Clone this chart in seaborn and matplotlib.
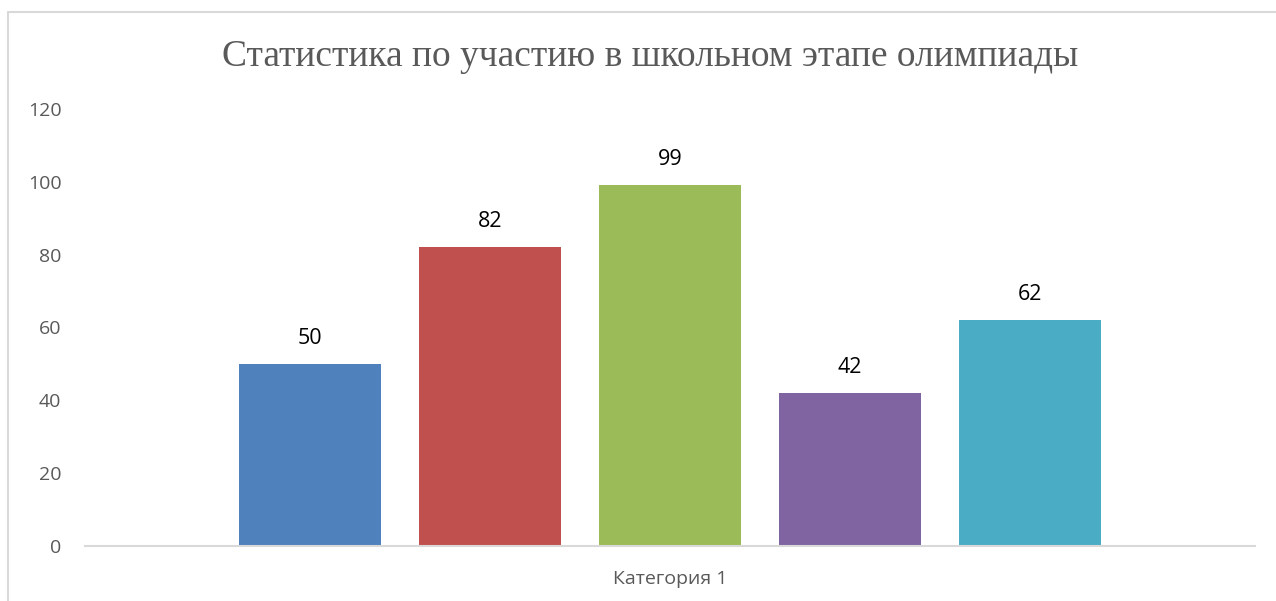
import matplotlib
matplotlib.use("Agg")
import matplotlib.pyplot as plt
import seaborn as sns
import pandas as pd
from matplotlib.patches import Rectangle

categories = ["Категория 1"]
series = ["Ряд 1", "Ряд 2", "Ряд 3", "Ряд 4", "Ряд 5"]
values = [50, 82, 99, 42, 62]
colors = ["#4F81BD", "#C0504D", "#9BBB59", "#8064A2", "#4BACC6"]
yticks = [0, 20, 40, 60, 80, 100, 120]
title = "Статистика по участию в школьном этапе олимпиады"

df = pd.DataFrame({"cat": categories * len(series), "series": series, "value": values})

sns.set_style("white")
plt.rcParams["font.family"] = ["Open Sans", "DejaVu Sans"]

fig = plt.figure(figsize=(12.76, 6.01), dpi=100)
ax = fig.add_axes([85 / 1276, 1 - 546 / 601, 1170 / 1276, (546 - 109) / 601])

sns.barplot(data=df, x="cat", y="value", hue="series", palette=colors,
            width=0.769, gap=0.21, ax=ax, legend=False, saturation=1,
            linewidth=0, edgecolor="none")

for c in ax.containers:
    ax.bar_label(c, fmt="%g", padding=11, fontsize=15.5, color="black")

ax.set_xlim(-0.5, 0.5)
ax.set_ylim(0, 120)
ax.set_yticks(yticks)
ax.set_yticklabels([str(t) for t in yticks])
ax.tick_params(axis="y", length=0, pad=17, labelsize=14, labelcolor="#595959")
ax.tick_params(axis="x", length=0, pad=17, labelsize=14, labelcolor="#595959")
ax.set_xlabel("")
ax.set_ylabel("")
for s in ["left", "right", "top"]:
    ax.spines[s].set_visible(False)
ax.spines["bottom"].set_color("#D9D9D9")
ax.spines["bottom"].set_linewidth(1.5)

fig.text(650 / 1276, 1 - 57 / 601, title, ha="center", va="center",
         fontsize=27, color="#595959", family="Liberation Serif")

fig.patches.append(Rectangle((8 / 1276, -0.1), 1.2, 1 - 12 / 601 + 0.1,
                             transform=fig.transFigure, fill=False,
                             edgecolor="#D9D9D9", linewidth=1.5))

fig.savefig("out.png", dpi=100)
